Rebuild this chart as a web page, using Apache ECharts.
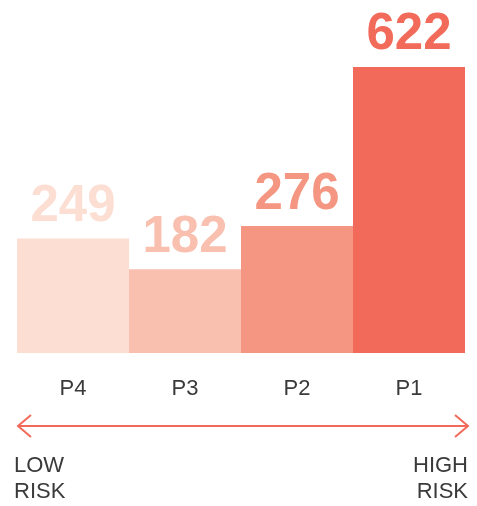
<!DOCTYPE html>
<html><head><meta charset="utf-8">
<script src="https://cdn.jsdelivr.net/npm/echarts@6/dist/echarts.min.js"></script>
<style>html,body{margin:0;padding:0;background:#fff}#c{width:477px;height:506px}</style>
</head><body><div id="c"></div>
<script>
var categories = ['P4', 'P3', 'P2', 'P1'];
var values = [249, 182, 276, 622];
var barColors = ['#fcded3', '#f9bfaf', '#f59682', '#f26a5a'];
var scaleLabels = ['LOW\nRISK', 'HIGH\nRISK'];

var chart = echarts.init(document.getElementById('c'));
var accent = '#f26a5a';
chart.setOption({
  animation: false,
  grid: {left: 17, right: 12, top: 31, height: 322, containLabel: false},
  xAxis: {
    type: 'category', data: categories,
    axisLine: {show: false}, axisTick: {show: false},
    axisLabel: {margin: 25, fontSize: 22, color: '#3a3a3a', fontFamily: 'Liberation Sans'}
  },
  yAxis: {type: 'value', min: 0, max: 700, show: false, splitLine: {show: false}},
  series: [{
    type: 'bar', barCategoryGap: 0,
    data: values.map(function (v, i) {
      return {value: v, itemStyle: {color: barColors[i]}, label: {color: barColors[i]}};
    }),
    label: {show: true, position: 'top', distance: 6, fontSize: 51, fontWeight: 'bold', fontFamily: 'Liberation Sans'}
  }],
  graphic: [
    {type: 'line', shape: {x1: 18, y1: 426, x2: 468, y2: 426}, style: {stroke: accent, lineWidth: 2}},
    {type: 'polyline', shape: {points: [[31, 415], [18, 426], [31, 437]]}, style: {stroke: accent, lineWidth: 2, fill: null}},
    {type: 'polyline', shape: {points: [[455, 415], [468, 426], [455, 437]]}, style: {stroke: accent, lineWidth: 2, fill: null}},
    {type: 'text', left: 14, top: 453, style: {text: scaleLabels[0], font: '22px "Liberation Sans"', fill: '#3a3a3a', lineHeight: 26, textAlign: 'left'}},
    {type: 'text', right: 9, top: 453, style: {text: scaleLabels[1], font: '22px "Liberation Sans"', fill: '#3a3a3a', lineHeight: 26, textAlign: 'right'}}
  ]
});
</script></body></html>
